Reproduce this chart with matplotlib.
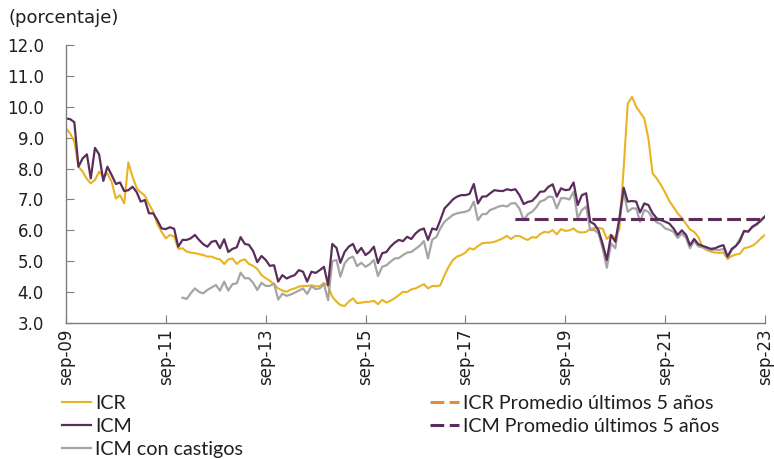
import numpy as np
import pandas as pd
import matplotlib
matplotlib.use('Agg')
import matplotlib.pyplot as plt

# monthly series, sep-2009 .. sep-2023 (percent)
fechas = pd.date_range('2009-09-01', periods=169, freq='MS')

icr = [9.30, 9.14, 8.87, 8.06, 7.90, 7.66, 7.52, 7.63, 7.90, 7.73,
       7.84, 7.57, 7.03, 7.14, 6.87, 8.20, 7.73, 7.36, 7.23, 7.12,
       6.85, 6.60, 6.20, 5.95, 5.74, 5.85, 5.80, 5.40, 5.42, 5.31,
       5.28, 5.26, 5.23, 5.20, 5.15, 5.15, 5.09, 5.06, 4.91, 5.06,
       5.09, 4.91, 5.02, 5.06, 4.91, 4.85, 4.75, 4.55, 4.45, 4.37,
       4.25, 4.12, 4.05, 4.01, 4.08, 4.12, 4.18, 4.20, 4.20, 4.22,
       4.19, 4.19, 4.30, 4.19, 3.85, 3.69, 3.58, 3.55, 3.69, 3.80,
       3.64, 3.66, 3.68, 3.69, 3.72, 3.61, 3.75, 3.66, 3.72, 3.80,
       3.90, 4.01, 4.00, 4.09, 4.12, 4.19, 4.26, 4.12, 4.20, 4.19,
       4.22, 4.55, 4.82, 5.04, 5.15, 5.20, 5.28, 5.42, 5.38, 5.49,
       5.58, 5.60, 5.60, 5.63, 5.68, 5.74, 5.82, 5.72, 5.82, 5.82,
       5.74, 5.69, 5.78, 5.76, 5.88, 5.95, 5.93, 6.01, 5.87, 6.04,
       5.98, 6.00, 6.06, 5.95, 5.93, 5.95, 6.04, 6.08, 6.08, 6.05,
       5.72, 5.85, 5.75, 6.04, 8.00, 10.10, 10.32, 10.00, 9.82, 9.62,
       8.98, 7.84, 7.68, 7.47, 7.22, 6.95, 6.75, 6.55, 6.40, 6.20,
       6.03, 5.95, 5.79, 5.45, 5.36, 5.31, 5.28, 5.27, 5.28, 5.07,
       5.17, 5.22, 5.24, 5.42, 5.45, 5.50, 5.60, 5.74, 5.85]

icm = [9.62, 9.60, 9.50, 8.06, 8.33, 8.46, 7.68, 8.67, 8.46, 7.60,
       8.06, 7.79, 7.50, 7.55, 7.27, 7.30, 7.41, 7.23, 6.93, 6.98,
       6.55, 6.55, 6.33, 6.06, 6.04, 6.10, 6.05, 5.47, 5.69, 5.69,
       5.74, 5.85, 5.69, 5.55, 5.47, 5.63, 5.66, 5.42, 5.71, 5.30,
       5.40, 5.45, 5.78, 5.56, 5.53, 5.33, 4.97, 5.17, 5.04, 4.85,
       4.87, 4.34, 4.55, 4.44, 4.50, 4.55, 4.71, 4.66, 4.34, 4.66,
       4.62, 4.71, 4.82, 4.23, 5.56, 5.43, 4.95, 5.30, 5.47, 5.56,
       5.26, 5.43, 5.20, 5.30, 5.47, 4.94, 5.26, 5.30, 5.47, 5.60,
       5.69, 5.65, 5.79, 5.72, 5.90, 6.01, 6.06, 5.69, 6.06, 6.02,
       6.33, 6.71, 6.85, 7.00, 7.09, 7.14, 7.14, 7.18, 7.50, 6.87,
       7.09, 7.10, 7.20, 7.30, 7.28, 7.27, 7.33, 7.30, 7.33, 7.14,
       6.85, 6.92, 6.95, 7.09, 7.25, 7.26, 7.41, 7.49, 7.09, 7.36,
       7.30, 7.32, 7.55, 6.82, 7.14, 7.20, 6.28, 6.20, 6.00, 5.55,
       5.04, 5.85, 5.63, 6.39, 7.38, 6.93, 6.95, 6.93, 6.58, 6.87,
       6.82, 6.55, 6.39, 6.33, 6.28, 6.22, 6.06, 5.85, 6.00, 5.85,
       5.52, 5.72, 5.55, 5.50, 5.45, 5.40, 5.42, 5.48, 5.52, 5.15,
       5.40, 5.50, 5.65, 5.98, 5.96, 6.12, 6.20, 6.32, 6.45]

icm_castigos = [np.nan] * 28 + [
       3.82, 3.78, 3.96, 4.12, 4.01, 3.96, 4.07, 4.15, 4.23, 4.05,
       4.34, 4.05, 4.26, 4.28, 4.63, 4.45, 4.45, 4.30, 4.07, 4.30,
       4.20, 4.20, 4.28, 3.76, 3.95, 3.88, 3.92, 3.98, 4.05, 4.12,
       3.94, 4.19, 4.10, 4.12, 4.26, 3.74, 5.00, 5.04, 4.50, 4.93,
       5.09, 5.15, 4.84, 4.95, 4.82, 4.90, 5.04, 4.52, 4.82, 4.87,
       4.98, 5.09, 5.10, 5.20, 5.28, 5.30, 5.40, 5.50, 5.65, 5.09,
       5.70, 5.79, 6.06, 6.28, 6.39, 6.50, 6.55, 6.58, 6.60, 6.66,
       6.93, 6.33, 6.52, 6.53, 6.66, 6.71, 6.77, 6.80, 6.77, 6.87,
       6.88, 6.70, 6.33, 6.52, 6.60, 6.75, 6.93, 6.98, 7.09, 7.08,
       6.71, 7.04, 7.04, 7.00, 7.25, 6.39, 6.66, 6.77, 6.01, 6.01,
       5.90, 5.40, 4.79, 5.58, 5.42, 6.28, 7.25, 6.60, 6.71, 6.71,
       6.28, 6.66, 6.60, 6.39, 6.26, 6.20, 6.06, 6.02, 5.95, 5.75,
       5.90, 5.75, 5.42, 5.65, 5.48, 5.45, 5.42, 5.36, 5.38, 5.36,
       5.40, 5.12, 5.36, 5.50, 5.72, 5.98, 5.95, 6.10, 6.18, 6.30,
       6.45]

# 5-year averages (sep-18 .. sep-23)
prom_inicio = '2018-09-01'
icr_prom = 6.36
icm_prom = 6.37

etiquetas = ['sep-09', 'sep-11', 'sep-13', 'sep-15', 'sep-17', 'sep-19', 'sep-21', 'sep-23']

c_icr = '#E9B322'
c_icm = '#5A2D5C'
c_cast = '#A5A5A5'
c_icr_p = '#E38B3B'
txt = '#1f1f1f'

df = pd.DataFrame({'ICR': icr, 'ICM': icm, 'ICM con castigos': icm_castigos}, index=fechas)
prom_idx = df.index[df.index >= prom_inicio]

fig = plt.figure(figsize=(7.74, 4.59), dpi=100)
ax = fig.add_axes([66/774, 1 - 323/459, (765 - 66)/774, (323 - 45)/459])

ax.plot(df.index, df['ICR'], color=c_icr, lw=1.5, label='ICR')
ax.plot(df.index, df['ICM con castigos'], color=c_cast, lw=1.6, label='ICM con castigos')
ax.plot(df.index, df['ICM'], color=c_icm, lw=1.6, label='ICM')
ax.plot(prom_idx, [icr_prom] * len(prom_idx), color=c_icr_p, lw=2.2, ls=(0, (4.5, 1.8)),
        label='ICR Promedio últimos 5 años')
ax.plot(prom_idx, [icm_prom] * len(prom_idx), color=c_icm, lw=2.2, ls=(0, (4.5, 1.8)),
        label='ICM Promedio últimos 5 años')

ax.set_ylim(3, 12)
ax.set_xlim(fechas[0], fechas[-1])
ax.set_yticks(np.arange(3, 12.5, 1.0))
ax.set_yticklabels(['%.1f' % v for v in np.arange(3, 12.5, 1.0)])
ax.set_xticks(fechas[::24])
ax.set_xticklabels(etiquetas, rotation=90)

for s in ['top', 'right']:
    ax.spines[s].set_visible(False)
for s in ['left', 'bottom']:
    ax.spines[s].set_color('#7f7f7f')
    ax.spines[s].set_linewidth(1.0)
ax.tick_params(direction='in', length=6, color='#7f7f7f', labelsize=12, labelcolor=txt, pad=4)
ax.tick_params(axis='y', pad=16)

fig.text(8/774, 1 - 18/459, '(porcentaje)', fontsize=13, color=txt, va='center', ha='left')

h, l = ax.get_legend_handles_labels()
orden = ['ICR', 'ICM', 'ICM con castigos', 'ICR Promedio últimos 5 años', 'ICM Promedio últimos 5 años']
hh = [h[l.index(o)] for o in orden]
leg = fig.legend(hh, orden, loc='upper left', bbox_to_anchor=(54/774, 1 - 387/459), ncol=2,
                 frameon=False, prop={'family': 'Lato', 'size': 14.2}, handlelength=1.5,
                 handletextpad=0.2, columnspacing=9.45, labelspacing=0.3, borderaxespad=0)
for t in leg.get_texts():
    t.set_color(txt)

fig.savefig('out.png', dpi=100)
